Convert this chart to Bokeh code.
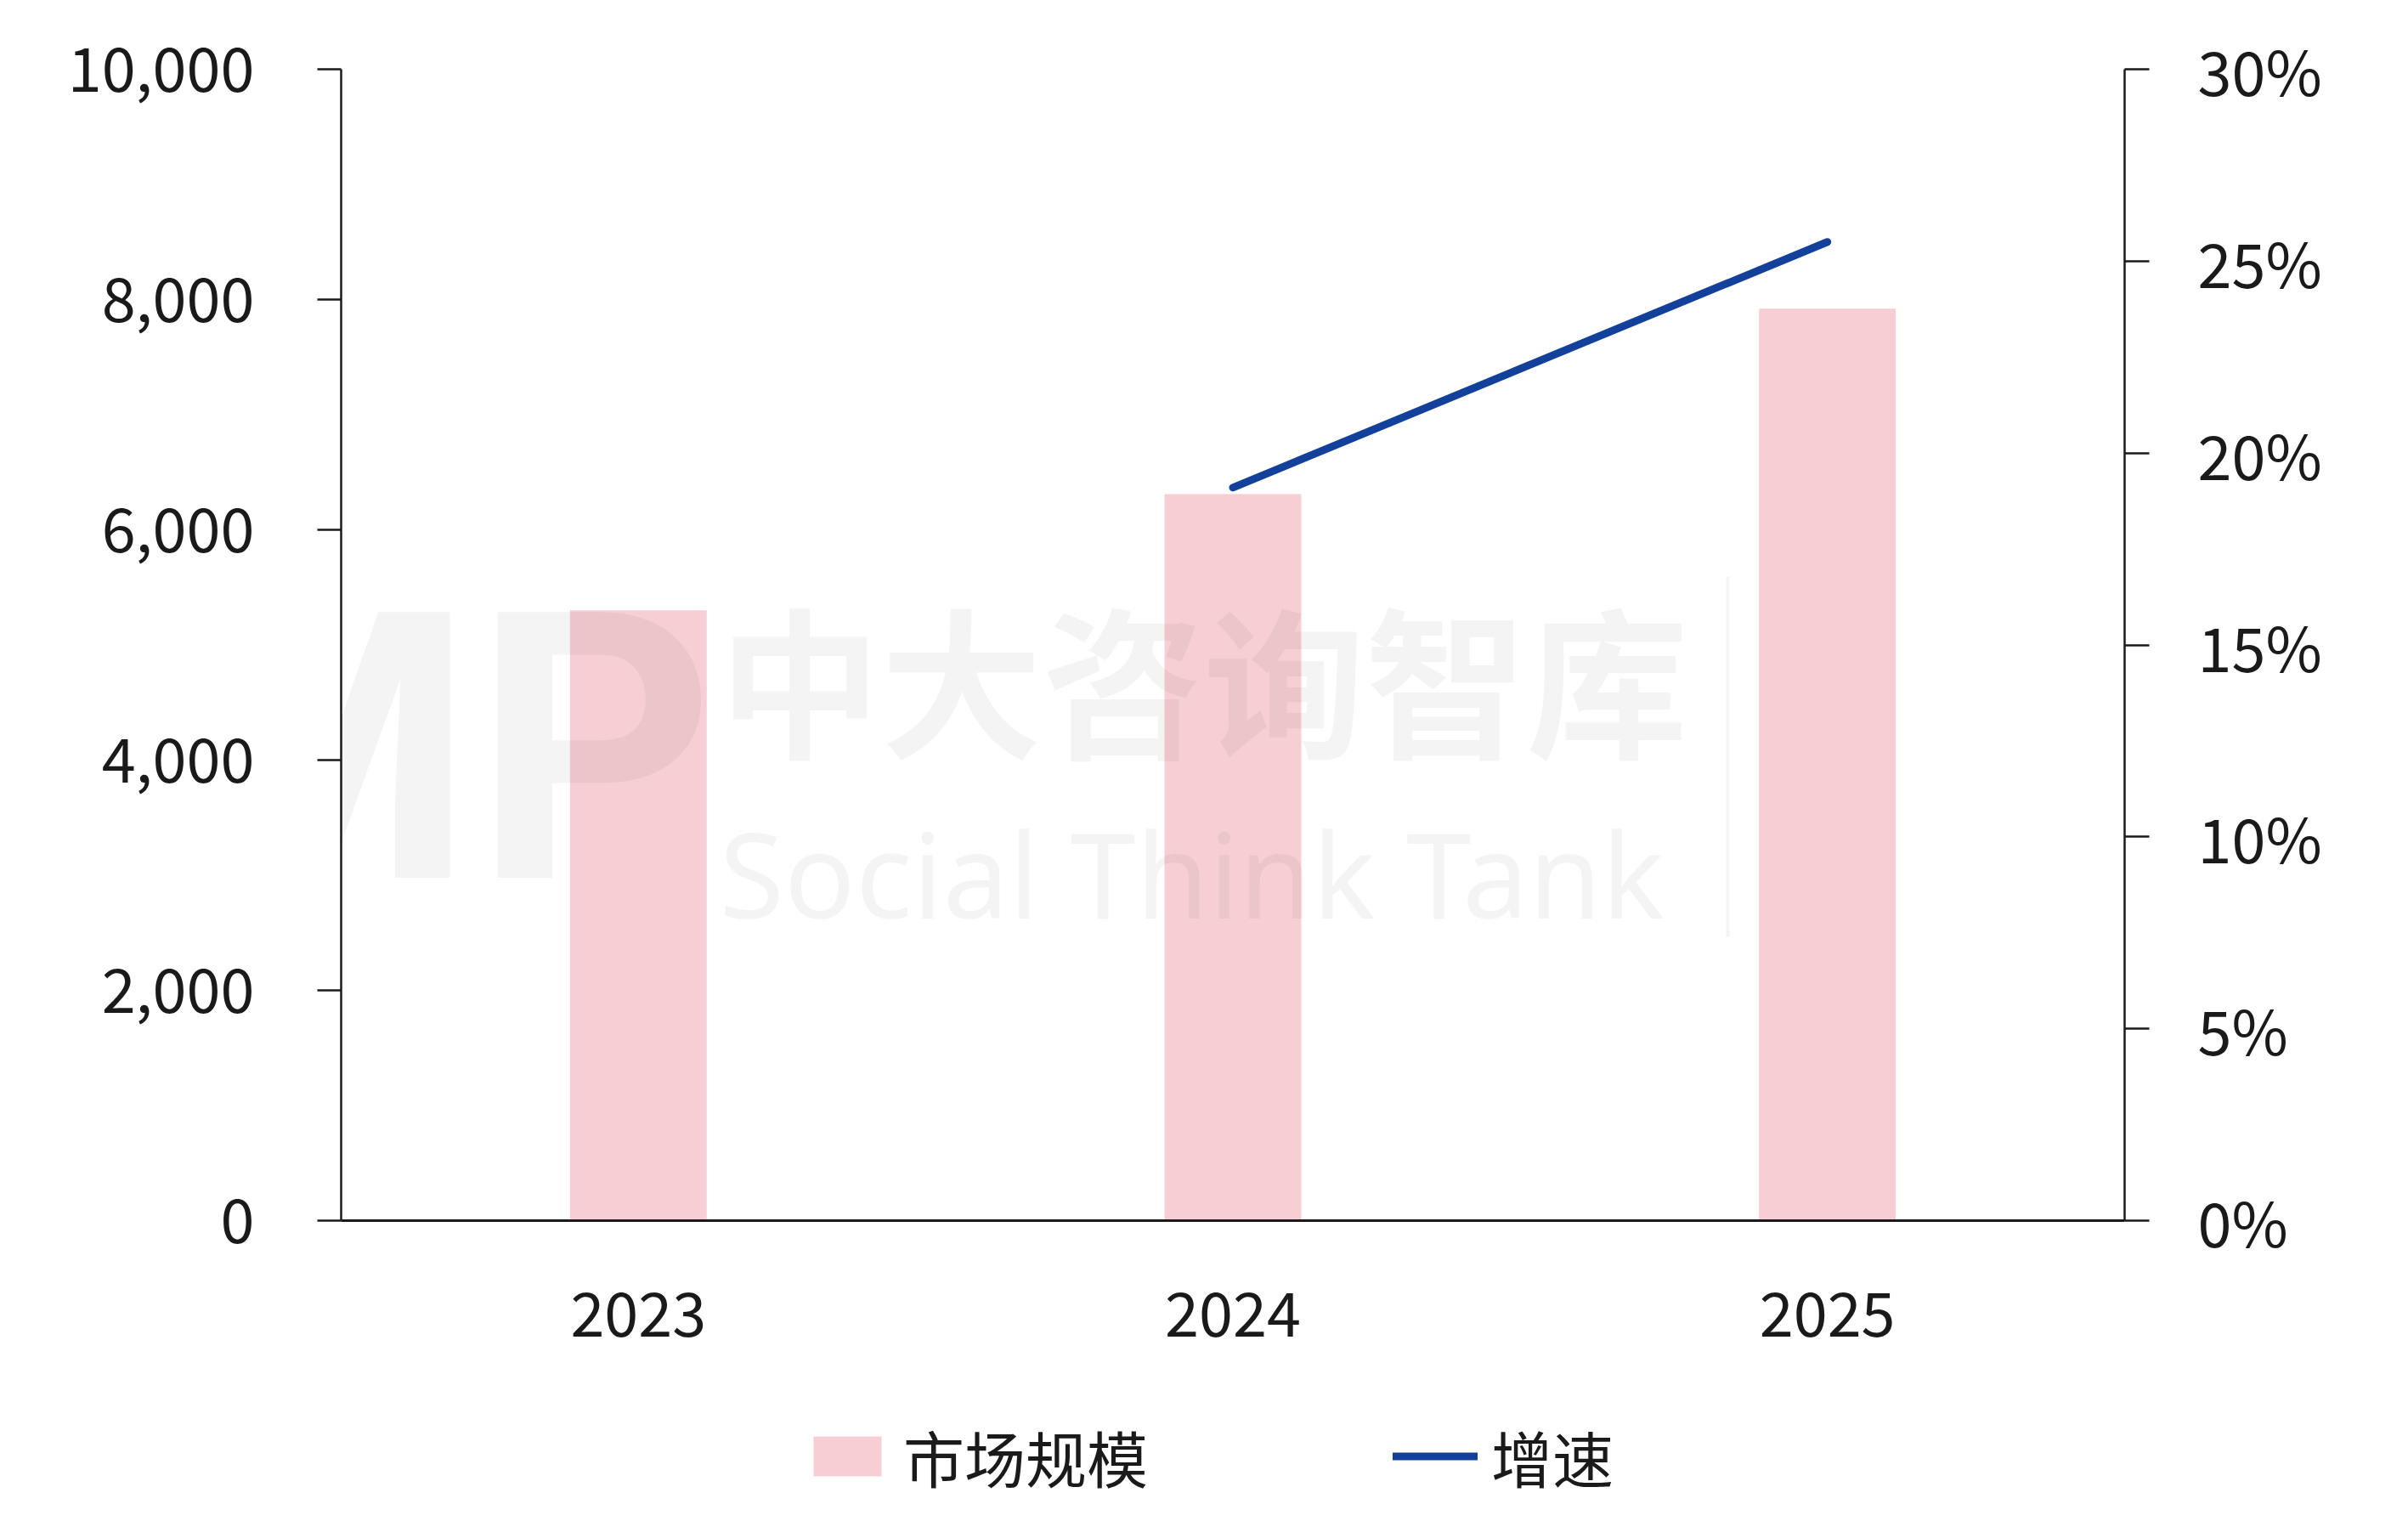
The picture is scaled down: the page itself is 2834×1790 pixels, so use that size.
from bokeh.plotting import figure
from bokeh.layouts import column
from bokeh.models import (FactorRange, Range1d, LinearAxis, NumeralTickFormatter,
                          FixedTicker, Legend, LegendItem, Label, BoxAnnotation)
from bokeh.embed import file_html
from bokeh.resources import INLINE

# ---- data ----
years = ["2023", "2024", "2025"]
market_size = [5300, 6310, 7920]          # 市场规模
growth_years = ["2024", "2025"]
growth_rate = [0.191, 0.255]              # 增速
left_ticks = [0, 2000, 4000, 6000, 8000, 10000]
right_ticks = [0, 0.05, 0.10, 0.15, 0.20, 0.25, 0.30]
series_names = ["市场规模", "增速"]

FONT = "Noto Sans CJK SC"
INK = "#1a1a1a"
BAR = "#F6CED3"
LINE = "#12409A"

W = 2830
H1 = 1640
H2 = 146
p = figure(width=W, height=H1,
           x_range=FactorRange(*years, range_padding=0),
           y_range=Range1d(0, 10000),
           output_backend="svg", toolbar_location=None,
           min_border_left=401, min_border_right=W - 2500,
           min_border_top=81, min_border_bottom=H1 - 1436)
p.outline_line_color = None
p.grid.visible = False
p.background_fill_color = "white"
p.border_fill_color = "white"

# left axis
ya = p.yaxis[0]
ya.ticker = FixedTicker(ticks=left_ticks)
ya.formatter = NumeralTickFormatter(format="0,0")
ya.major_tick_out = 28
ya.major_tick_in = 0
ya.minor_tick_out = 0
ya.minor_tick_in = 0
ya.axis_line_width = 2.5
ya.major_tick_line_width = 2.5
ya.axis_line_color = INK
ya.major_tick_line_color = INK
ya.major_label_standoff = 74
ya.major_label_text_font = FONT
ya.major_label_text_font_size = "72px"
ya.major_label_text_color = INK

# x axis
xa = p.xaxis[0]
xa.major_tick_out = 0
xa.major_tick_in = 0
xa.axis_line_width = 3
xa.axis_line_color = INK
xa.major_label_standoff = 83
xa.major_label_text_font = FONT
xa.major_label_text_font_size = "72px"
xa.major_label_text_color = INK

# right axis
p.extra_y_ranges = {"g": Range1d(0, 0.30)}
ra = LinearAxis(y_range_name="g",
                ticker=FixedTicker(ticks=right_ticks),
                formatter=NumeralTickFormatter(format="0%"))
ra.major_tick_out = 29
ra.major_tick_in = 0
ra.minor_tick_out = 0
ra.minor_tick_in = 0
ra.axis_line_width = 2.5
ra.major_tick_line_width = 2.5
ra.axis_line_color = INK
ra.major_tick_line_color = INK
ra.major_label_standoff = 57
ra.major_label_text_font = FONT
ra.major_label_text_font_size = "72px"
ra.major_label_text_color = INK
p.add_layout(ra, "right")

# glyphs
p.vbar(x=years, top=market_size, width=0.23, fill_color=BAR, line_color=None)
p.line(x=growth_years, y=growth_rate, y_range_name="g",
       line_color=LINE, line_width=9, line_cap="round")

# watermark (very faint)
wm = dict(x_units="screen", y_units="screen", text_color="black", text_alpha=0.045,
          text_baseline="middle")
p.add_layout(Label(x=-229, y=554, text="MP", text_font="Roboto", text_font_style="bold",
                   text_font_size="440px", **wm))
p.add_layout(Label(x=445, y=641, text="中大咨询智库", text_font=FONT, text_font_style="bold",
                   text_font_size="190px", **wm))
p.add_layout(Label(x=445, y=410, text="Social Think Tank", text_font="Noto Sans",
                   text_font_size="139px", **wm))
p.add_layout(BoxAnnotation(left=1630, right=1634, bottom=334, top=758,
                           left_units="screen", right_units="screen",
                           bottom_units="screen", top_units="screen",
                           fill_color="black", fill_alpha=0.045, line_color=None))

# ---- legend strip (hidden copies of the series, used only as legend keys) ----
q = figure(width=W, height=H2, x_range=FactorRange(*years, range_padding=0),
           y_range=Range1d(-2, -1),
           x_axis_type=None, y_axis_type=None,
           output_backend="svg", toolbar_location=None,
           min_border_left=0, min_border_right=0, min_border_top=0, min_border_bottom=0)
q.outline_line_color = None
q.grid.visible = False
q.background_fill_color = "white"
q.border_fill_color = "white"
q.extra_y_ranges = {"g": Range1d(-2, -1)}
lg_bar = q.vbar(x=years, top=market_size, bottom=market_size, width=0.23,
                fill_color=BAR, line_color=None, visible=False)
lg_line = q.line(x=growth_years, y=growth_rate, y_range_name="g",
                 line_color=LINE, line_width=9, line_cap="round", visible=False)
legend = Legend(items=[LegendItem(label=series_names[0], renderers=[lg_bar]),
                       LegendItem(label=series_names[1], renderers=[lg_line])],
                location=(546, 20), orientation="horizontal",
                glyph_width=100, glyph_height=59, label_standoff=16, spacing=288,
                padding=0, margin=0, border_line_color=None,
                background_fill_alpha=0, inactive_fill_alpha=0,
                label_text_font=FONT, label_text_font_size="72px",
                label_text_color=INK)
q.add_layout(legend)

open("out.html", "w").write(file_html(column(p, q, spacing=0), INLINE))
